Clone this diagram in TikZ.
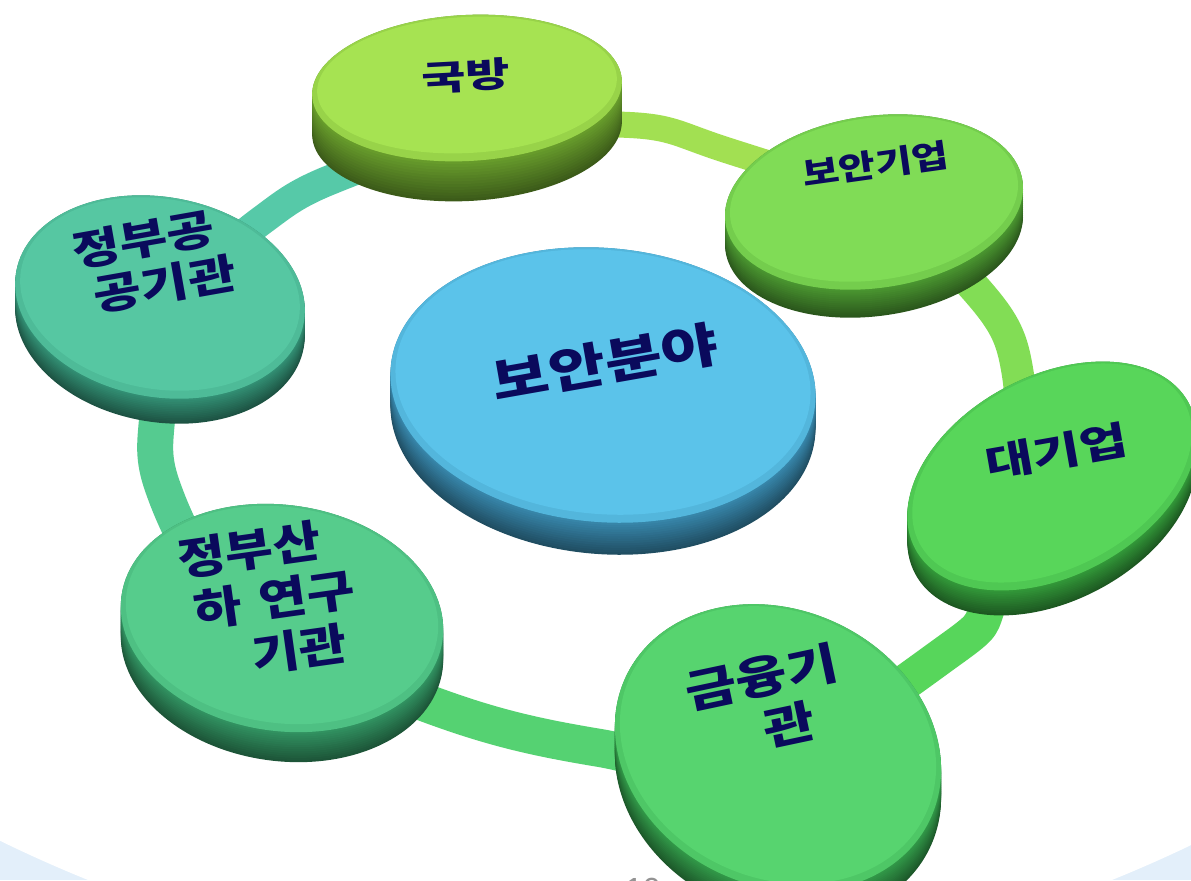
\documentclass[tikz,border=0pt]{standalone}
\usepackage{fontspec}
\usepackage{graphicx}
\setmainfont{Liberation Sans}
\newfontfamily\kr{Noto Sans CJK KR}
\usetikzlibrary{calc}
\definecolor{kbTop}{HTML}{A6E352}\definecolor{kbSide}{HTML}{6DA52E}
\definecolor{bsTop}{HTML}{80DC56}\definecolor{bsSide}{HTML}{4E9E33}
\definecolor{dgTop}{HTML}{58D65A}\definecolor{dgSide}{HTML}{35A03C}
\definecolor{gyTop}{HTML}{57D46F}\definecolor{gySide}{HTML}{34A04C}
\definecolor{jsTop}{HTML}{56CC8C}\definecolor{jsSide}{HTML}{349A66}
\definecolor{jgTop}{HTML}{56C7A2}\definecolor{jgSide}{HTML}{35977A}
\definecolor{cTop}{HTML}{5BC3EA}\definecolor{cSide}{HTML}{3A8DB3}
\definecolor{navy}{HTML}{0A0A5C}
\definecolor{bgblue}{HTML}{E3EFFA}
\definecolor{rA}{HTML}{56C9A8}\definecolor{rB}{HTML}{A2E052}
\definecolor{rC}{HTML}{82DD55}\definecolor{rD}{HTML}{57D65B}
\definecolor{rE}{HTML}{55D272}\definecolor{rF}{HTML}{55CB90}
% disk: cx, cy, rx, ry, rot, thickness, top colour, side colour
\newcommand\mydisk[8]{%
  \foreach \k in {0,...,14}{%
    \pgfmathsetmacro\off{#6*(1-\k/14)}%
    \pgfmathtruncatemacro\mx{55+\k*3}%
    \fill[#8!\mx!black, rotate around={#5:(#1,#2+\off)}] (#1,#2+\off) ellipse ({#3} and {#4});
  }%
  \fill[#7!75!#8, rotate around={#5:(#1,#2)}] (#1,#2) ellipse ({#3} and {#4});
  \fill[#7, rotate around={#5:(#1,#2-3)}] (#1,#2-3) ellipse ({#3-5} and {#4-5});
}
\newcommand\sqz[2]{\scalebox{1}[#1]{\begin{tabular}{@{}c@{}}#2\end{tabular}}}
\begin{document}
\begin{tikzpicture}[x=0.5pt,y=-0.5pt,
  lbl/.style={text=navy, align=center, inner sep=0pt},
  ringseg/.style={line width=#1, line join=round}]
\useasboundingbox (0,0) rectangle (1191,880);
\clip (0,0) rectangle (1191,880);
% background
\fill[bgblue] (0,0) rectangle (1191,880);
\fill[white] (600,-389) circle (1368);
% ring
\coordinate (rc) at (585,440);
\coordinate (r1) at (175,340);
\coordinate (r2) at (470,130);
\coordinate (r3) at (880,205);
\coordinate (r4) at (1015,490);
\coordinate (r5) at (760,765);
\coordinate (r6) at (280,640);
\def\ringpath{plot[smooth cycle, tension=0.6] coordinates {(162,485) (157,420) (175,340) (215,265) (265,218) (330,180) (470,135) (630,125) (720,148) (880,208) (985,300) (1018,375) (1015,490) (990,600) (950,650) (760,765) (600,748) (460,715) (300,648) (212,580)}}
\foreach \a/\b/\col/\w in {r1/r2/rA/15pt, r2/r3/rB/13pt, r3/r4/rC/16pt, r4/r5/rD/18pt, r5/r6/rE/19pt, r6/r1/rF/18pt}{
  \begin{scope}
    \clip (rc) -- ($(rc)!5!(\a)$) -- ($(rc)!5!(\b)$) -- cycle;
    \draw[\col, ringseg=\w] \ringpath;
  \end{scope}
}
% disks
\mydisk{467}{88}{155}{73}{3}{40}{kbTop}{kbSide}
\mydisk{874}{202}{150}{86}{8}{28}{bsTop}{bsSide}
\mydisk{1052}{476}{155}{100}{28}{25}{dgTop}{dgSide}
\mydisk{778}{748}{168}{138}{-25}{28}{gyTop}{gySide}
\mydisk{282}{618}{162}{113}{-8}{30}{jsTop}{jsSide}
\mydisk{160}{297}{146}{100}{-10}{25}{jgTop}{jgSide}
\mydisk{603}{385}{213}{137}{-5}{32}{cTop}{cSide}
% labels
\node[lbl, rotate=3, font={\kr\bfseries\fontsize{24}{26}\selectfont}] (n1) at (466,80) {\sqz{0.72}{국방}};
\node[lbl, rotate=8, font={\kr\bfseries\fontsize{20}{22}\selectfont}] (n2) at (876,168) {\sqz{0.8}{보안기업}};
\node[lbl, rotate=10, font={\kr\bfseries\fontsize{26}{28}\selectfont}] (n3) at (1057,456) {\sqz{0.75}{대기업}};
\node[lbl, rotate=12, font={\kr\bfseries\fontsize{28}{31}\selectfont}] (n4) at (768,708) {\sqz{0.8}{금융기\\\hspace*{17pt}관}};
\node[lbl, rotate=8, font={\kr\bfseries\fontsize{26}{30}\selectfont}] (n5) at (275,605) {\sqz{0.85}{정부산\hspace*{18pt}\\하\hspace{0.35em}연구\\\hspace*{18pt}기관}};
\node[lbl, rotate=10, font={\kr\bfseries\fontsize{26}{26}\selectfont}] (n6) at (155,266) {\sqz{0.8}{정부공\hspace*{6.5pt}\\\hspace*{6.5pt}공기관}};
\node[lbl, rotate=10, font={\kr\bfseries\fontsize{31}{33}\selectfont}] (n7) at (606,368) {\sqz{0.78}{보안분야}};
\node[text=gray!85, anchor=base, font=\fontsize{16}{18}\selectfont, inner sep=0pt] (pg) at (643,900) {10};
\end{tikzpicture}
\end{document}
